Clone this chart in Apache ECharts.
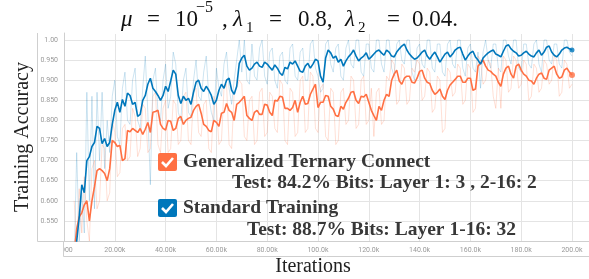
<!DOCTYPE html>
<html>
<head>
<meta charset="utf-8">
<script src="https://cdn.jsdelivr.net/npm/echarts@6/dist/echarts.min.js"></script>
<style>
  html, body { margin: 0; padding: 0; background: #fff; }
  #chart { width: 589px; height: 279px; }
</style>
</head>
<body>
<div id="chart"></div>
<script>
// one sample every 1k iterations, from 4k to 200k
const firstStep = 4000
const stepSize = 1000

const blueSmooth = [
  0.45, 0.5, 0.56, 0.64, 0.62, 0.70, 0.71, 0.735, 0.745, 0.785,
  0.78, 0.742, 0.755, 0.735, 0.745, 0.79, 0.825, 0.845, 0.82, 0.852,
  0.835, 0.868, 0.862, 0.84, 0.845, 0.81, 0.815, 0.85, 0.862, 0.89,
  0.905, 0.88, 0.872, 0.862, 0.85, 0.862, 0.885, 0.872, 0.898, 0.925,
  0.915, 0.862, 0.842, 0.86, 0.85, 0.855, 0.84, 0.87, 0.895, 0.9,
  0.88, 0.872, 0.885, 0.875, 0.862, 0.84, 0.85, 0.875, 0.89, 0.88,
  0.9, 0.905, 0.875, 0.865, 0.885, 0.942, 0.955, 0.962, 0.935, 0.925,
  0.93, 0.94, 0.945, 0.935, 0.932, 0.945, 0.94, 0.932, 0.925, 0.938,
  0.93, 0.918, 0.912, 0.932, 0.928, 0.945, 0.94, 0.948, 0.935, 0.922,
  0.92, 0.935, 0.942, 0.93, 0.94, 0.952, 0.948, 0.91, 0.895, 0.955,
  0.975, 0.968, 0.955, 0.96, 0.945, 0.952, 0.935, 0.948, 0.958, 0.965,
  0.975, 0.96, 0.948, 0.955, 0.96, 0.968, 0.952, 0.958, 0.965, 0.972,
  0.975, 0.968, 0.962, 0.975, 0.97, 0.96, 0.958, 0.97, 0.978, 0.985,
  0.99, 0.975, 0.965, 0.958, 0.952, 0.955, 0.962, 0.97, 0.975, 0.96,
  0.952, 0.962, 0.97, 0.958, 0.945, 0.955, 0.965, 0.97, 0.958, 0.965,
  0.975, 0.98, 0.982, 0.965, 0.95, 0.96, 0.968, 0.972, 0.958, 0.95,
  0.94, 0.955, 0.962, 0.968, 0.972, 0.975, 0.965, 0.962, 0.958, 0.972,
  0.985, 0.988, 0.978, 0.972, 0.968, 0.96, 0.962, 0.968, 0.972, 0.965,
  0.96, 0.958, 0.968, 0.975, 0.962, 0.97, 0.982, 0.985, 0.97, 0.962,
  0.958, 0.965, 0.975, 0.98, 0.982, 0.978, 0.975
]
const blueRaw = [
  0.45, 0.72, 0.5, 0.62, 0.52, 0.87, 0.6, 0.86, 0.58, 0.87,
  0.7, 0.87, 0.68, 0.8, 0.72, 0.86, 0.9, 0.76, 0.74, 0.88,
  0.92, 0.8, 0.79, 0.9, 0.93, 0.8, 0.78, 0.88, 0.96, 0.82,
  0.64, 0.9, 0.93, 0.82, 0.8, 0.9, 0.94, 0.83, 0.86, 0.97,
  0.94, 0.82, 0.8, 0.9, 0.93, 0.82, 0.81, 0.9, 0.95, 0.86,
  0.85, 0.92, 0.96, 0.86, 0.82, 0.8, 0.93, 0.88, 0.86, 0.94,
  0.97, 0.88, 0.84, 0.9, 0.95, 1.0, 0.92, 1.0, 0.9, 0.89,
  0.99, 0.91, 0.9, 0.98, 1.0, 0.91, 0.89, 0.97, 0.98, 0.9,
  0.88, 0.96, 0.97, 0.9, 0.89, 0.98, 0.99, 0.91, 0.9, 0.97,
  0.98, 0.9, 0.9, 0.99, 1.0, 0.93, 0.91, 0.87, 0.88, 0.99,
  1.0, 0.94, 0.92, 0.98, 0.99, 0.91, 0.9, 0.98, 1.0, 0.94,
  0.93, 1.0, 1.0, 0.92, 0.91, 0.99, 0.99, 0.93, 0.92, 1.0,
  1.0, 0.94, 0.92, 1.0, 1.0, 0.93, 0.91, 0.99, 1.0, 0.95,
  0.94, 1.0, 1.0, 0.92, 0.9, 0.98, 0.99, 0.94, 0.93, 1.0,
  1.0, 0.93, 0.92, 0.99, 0.99, 0.92, 0.91, 0.99, 1.0, 0.94,
  0.93, 1.0, 1.0, 0.93, 0.91, 0.98, 0.99, 0.93, 0.92, 0.97,
  0.88, 0.97, 1.0, 0.95, 0.93, 0.99, 0.99, 0.93, 0.92, 1.0,
  1.0, 0.96, 0.94, 1.0, 1.0, 0.93, 0.92, 0.99, 0.99, 0.94,
  0.93, 0.99, 1.0, 0.94, 0.92, 1.0, 1.0, 0.95, 0.94, 0.99,
  0.99, 0.94, 0.93, 1.0, 1.0, 0.97, 0.96
]
const orangeSmooth = [
  0.47, 0.53, 0.56, 0.57, 0.59, 0.6, 0.55, 0.6, 0.635, 0.675,
  0.68, 0.675, 0.668, 0.65, 0.68, 0.75, 0.745, 0.735, 0.738, 0.70,
  0.705, 0.775, 0.772, 0.78, 0.775, 0.77, 0.78, 0.765, 0.778, 0.795,
  0.77, 0.82, 0.822, 0.825, 0.79, 0.78, 0.776, 0.80, 0.798, 0.775,
  0.78, 0.805, 0.81, 0.79, 0.8, 0.805, 0.808, 0.825, 0.835, 0.84,
  0.818, 0.79, 0.785, 0.775, 0.772, 0.8, 0.795, 0.785, 0.818, 0.82,
  0.842, 0.825, 0.82, 0.8, 0.84, 0.845, 0.852, 0.86, 0.812, 0.805,
  0.8, 0.82, 0.825, 0.815, 0.815, 0.84, 0.838, 0.82, 0.812, 0.85,
  0.848, 0.86, 0.858, 0.83, 0.83, 0.825, 0.832, 0.85, 0.82, 0.845,
  0.86, 0.84, 0.842, 0.865, 0.878, 0.89, 0.832, 0.845, 0.845, 0.862,
  0.86, 0.835, 0.828, 0.812, 0.81, 0.835, 0.828, 0.845, 0.855, 0.87,
  0.872, 0.85, 0.842, 0.86, 0.858, 0.865, 0.845, 0.825, 0.812, 0.8,
  0.835, 0.825, 0.85, 0.865, 0.86, 0.9, 0.915, 0.925, 0.898, 0.89,
  0.905, 0.91, 0.91, 0.895, 0.893, 0.905, 0.922, 0.925, 0.905, 0.895,
  0.892, 0.875, 0.865, 0.87, 0.878, 0.86, 0.852, 0.875, 0.888, 0.895,
  0.902, 0.91, 0.91, 0.895, 0.895, 0.905, 0.905, 0.875, 0.878, 0.935,
  0.942, 0.95, 0.935, 0.925, 0.922, 0.915, 0.91, 0.895, 0.885, 0.915,
  0.93, 0.935, 0.915, 0.905, 0.935, 0.94, 0.925, 0.915, 0.91, 0.9,
  0.898, 0.89, 0.905, 0.915, 0.918, 0.905, 0.902, 0.925, 0.93, 0.935,
  0.915, 0.905, 0.908, 0.925, 0.93, 0.92, 0.913
]
const orangeRaw = [
  0.6, 0.5, 0.63, 0.52, 0.66, 0.55, 0.5, 0.68, 0.7, 0.58,
  0.6, 0.74, 0.73, 0.6, 0.62, 0.8, 0.77, 0.66, 0.67, 0.78,
  0.79, 0.7, 0.71, 0.83, 0.81, 0.71, 0.73, 0.84, 0.83, 0.72,
  0.73, 0.86, 0.87, 0.74, 0.72, 0.83, 0.85, 0.72, 0.73, 0.85,
  0.84, 0.74, 0.75, 0.86, 0.87, 0.75, 0.74, 0.87, 0.88, 0.77,
  0.76, 0.84, 0.85, 0.73, 0.72, 0.86, 0.84, 0.74, 0.75, 0.88,
  0.89, 0.74, 0.73, 0.87, 0.88, 0.9, 0.89, 0.76, 0.75, 0.85,
  0.86, 0.74, 0.75, 0.87, 0.88, 0.76, 0.77, 0.87, 0.86, 0.78,
  0.77, 0.9, 0.89, 0.75, 0.74, 0.88, 0.87, 0.76, 0.77, 0.9,
  0.91, 0.77, 0.78, 0.92, 0.91, 0.78, 0.77, 0.88, 0.89, 0.76,
  0.75, 0.88, 0.87, 0.74, 0.75, 0.87, 0.88, 0.79, 0.8, 0.91,
  0.9, 0.78, 0.79, 0.9, 0.91, 0.79, 0.8, 0.88, 0.76, 0.87,
  0.88, 0.79, 0.8, 0.91, 0.9, 0.95, 0.94, 0.84, 0.85, 0.94,
  0.93, 0.84, 0.85, 0.93, 0.92, 0.95, 0.94, 0.85, 0.86, 0.93,
  0.92, 0.82, 0.83, 0.91, 0.9, 0.77, 0.78, 0.93, 0.92, 0.86,
  0.87, 0.94, 0.93, 0.84, 0.85, 0.94, 0.93, 0.82, 0.83, 0.96,
  0.95, 0.89, 0.9, 0.95, 0.94, 0.86, 0.83, 0.93, 0.83, 0.96,
  0.95, 0.87, 0.88, 0.96, 0.95, 0.88, 0.89, 0.95, 0.94, 0.85,
  0.86, 0.94, 0.93, 0.87, 0.88, 0.95, 0.94, 0.89, 0.9, 0.96,
  0.95, 0.86, 0.87, 0.95, 0.94, 0.88, 0.89
]

const yMin = 0.5
const yMax = 1.0174
const xTickLabels = {
  0: '0.000', 20000: '20.00k', 40000: '40.00k', 60000: '60.00k', 80000: '80.00k',
  100000: '100.0k', 120000: '120.0k', 140000: '140.0k', 160000: '160.0k',
  180000: '180.0k', 200000: '200.0k'
}

const BLUE = '#0077bb'
const ORANGE = '#ff7043'
const SERIF = '"Liberation Serif", "DejaVu Serif", serif'

function pairs(vals) {
  return vals.map((v, i) => [firstStep + i * stepSize, v])
}
function lastPoint(vals) {
  return [[firstStep + (vals.length - 1) * stepSize, vals[vals.length - 1]]]
}

// pieces of the formula title, laid out by hand like LaTeX
function mathText(x, y, text, size, italic) {
  return {
    type: 'text', x: x, y: y,
    style: {
      text: text, fill: '#111', verticalAlign: 'middle',
      font: (italic ? 'italic ' : '') + size + 'px ' + SERIF
    }
  }
}

// checkbox with a white tick
function checkbox(x, y, color) {
  return [
    { type: 'rect', shape: { x: x, y: y, width: 19, height: 18, r: 2 }, style: { fill: color }, z: 100 },
    {
      type: 'polyline', shape: { points: [[x + 4, y + 9], [x + 8, y + 13], [x + 15, y + 5]] },
      style: { stroke: '#fff', lineWidth: 2.6, fill: null }, z: 101
    }
  ]
}
function legendText(x, y, text) {
  return {
    type: 'text', x: x, y: y, z: 100,
    style: { text: text, font: 'bold 19.5px ' + SERIF, fill: '#383838', verticalAlign: 'middle' }
  }
}

const chart = echarts.init(document.getElementById('chart'))
chart.setOption({
  animation: false,
  grid: { left: 64, right: 0, top: 33, bottom: 38 },
  xAxis: {
    type: 'value', min: 0, max: 206700, interval: 20000,
    axisLine: { lineStyle: { color: '#cfcfcf' } },
    axisTick: { show: false },
    splitLine: { lineStyle: { color: '#e4e4e4' } },
    axisLabel: {
      fontSize: 7, color: '#999', margin: 6, fontFamily: 'Roboto',
      showMaxLabel: false,
      formatter: v => xTickLabels[v] || ''
    }
  },
  yAxis: {
    type: 'value', min: yMin, max: yMax, interval: 0.05,
    axisLine: { show: true, lineStyle: { color: '#cfcfcf' } },
    axisTick: { show: false },
    splitLine: { lineStyle: { color: '#e4e4e4' } },
    axisLabel: {
      fontSize: 7, color: '#999', margin: 6, fontFamily: 'Roboto',
      showMaxLabel: false,
      formatter: v => {
        if (Math.abs(v - 1) < 1e-6) return '1.00'
        if (v > 1 || v <= yMin + 1e-6) return ''
        return v.toFixed(3)
      }
    }
  },
  series: [
    { type: 'line', data: pairs(blueRaw), symbol: 'none', lineStyle: { width: 1, color: 'rgba(0,119,187,0.2)' } },
    { type: 'line', data: pairs(orangeRaw), symbol: 'none', lineStyle: { width: 1, color: 'rgba(255,112,67,0.22)' } },
    { type: 'line', data: pairs(orangeSmooth), symbol: 'none', lineStyle: { width: 1.6, color: ORANGE } },
    { type: 'line', data: pairs(blueSmooth), symbol: 'none', lineStyle: { width: 1.6, color: BLUE } },
    { type: 'scatter', data: lastPoint(blueSmooth), symbolSize: 5, itemStyle: { color: BLUE } },
    { type: 'scatter', data: lastPoint(orangeSmooth), symbolSize: 6, itemStyle: { color: ORANGE } }
  ],
  graphic: [
    // hide the split line at the very top of the plot
    { type: 'line', shape: { x1: 65, y1: 33.5, x2: 589, y2: 33.5 }, style: { stroke: '#fff', lineWidth: 1 }, z: 40 },
    // frame lines around the axis areas
    { type: 'line', shape: { x1: 37.5, y1: 33, x2: 37.5, y2: 241.5 }, style: { stroke: '#cfcfcf', lineWidth: 1 } },
    { type: 'line', shape: { x1: 37.5, y1: 241.5, x2: 64, y2: 241.5 }, style: { stroke: '#cfcfcf', lineWidth: 1 } },
    { type: 'rect', shape: { x: 38, y: 242, width: 25, height: 14 }, style: { fill: '#fff' }, z: 50 },
    { type: 'line', shape: { x1: 63.5, y1: 241, x2: 63.5, y2: 256.5 }, style: { stroke: '#cfcfcf', lineWidth: 1 }, z: 51 },
    { type: 'line', shape: { x1: 63.5, y1: 256.5, x2: 589, y2: 256.5 }, style: { stroke: '#cfcfcf', lineWidth: 1 }, z: 51 },
    // title: mu = 10^-5, lambda_1 = 0.8, lambda_2 = 0.04.
    mathText(121, 20, 'μ', 23, true),
    mathText(147, 20, '=', 23),
    mathText(175, 20, '10', 23),
    mathText(196, 8, '−5', 16),
    mathText(222, 20, ',', 23),
    mathText(233, 20, 'λ', 23, true),
    mathText(246, 28, '1', 15),
    mathText(269, 20, '=', 23),
    mathText(298, 20, '0.8,', 23),
    mathText(345, 20, 'λ', 23, true),
    mathText(358, 28, '2', 15),
    mathText(387, 20, '=', 23),
    mathText(412, 20, '0.04.', 23),
    {
      type: 'text', x: 23, y: 137, rotation: Math.PI / 2,
      style: { text: 'Training Accuracy', font: '20px ' + SERIF, fill: '#222', align: 'center', verticalAlign: 'middle' }
    },
    {
      type: 'text', x: 313, y: 267,
      style: { text: 'Iterations', font: '20px ' + SERIF, fill: '#222', align: 'center', verticalAlign: 'middle' }
    },
    ...checkbox(158, 153, ORANGE),
    legendText(183, 162, 'Generalized Ternary Connect'),
    legendText(232, 183, 'Test: 84.2% Bits: Layer 1: 3 , 2-16: 2'),
    ...checkbox(158, 199, BLUE),
    legendText(183, 208, 'Standard Training'),
    legendText(247, 230, 'Test: 88.7% Bits: Layer 1-16: 32')
  ]
})
</script>
</body>
</html>
